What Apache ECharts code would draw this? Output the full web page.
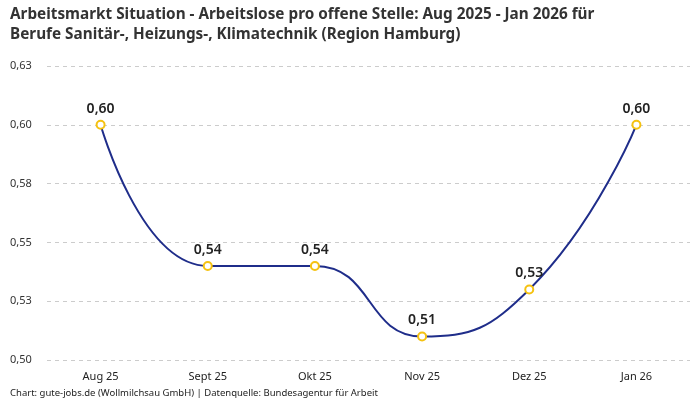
<!DOCTYPE html>
<html style="height: 100%">
  <head>
    <meta charset="UTF-8" />
    <title>Arbeitsmarkt Situation Hamburg</title>
    <script src="https://cdn.jsdelivr.net/npm/echarts/dist/echarts.min.js"></script>
  </head>
  <body style="height: 100%; margin: 0">
    <div id="main" style="width: 700px; height: 400px"></div>
    <script>
      // Daten
      var months = ['Aug 25', 'Sept 25', 'Okt 25', 'Nov 25', 'Dez 25', 'Jan 26'];
      var ratio = [0.6, 0.54, 0.54, 0.51, 0.53, 0.6];

      var fmt = function (v) {
        return (v + 1e-9).toFixed(2).replace('.', ',');
      };

      var chart = echarts.init(document.getElementById('main'));

      var option = {
        textStyle: { fontFamily: 'Noto Sans' },
        title: {
          text: 'Arbeitsmarkt Situation - Arbeitslose pro offene Stelle: Aug 2025 - Jan 2026 für\nBerufe Sanitär-, Heizungs-, Klimatechnik (Region Hamburg)',
          left: 5,
          top: 0,
          textStyle: {
            fontSize: 15.3,
            fontWeight: 'bold',
            color: '#333',
            lineHeight: 20,
          },
        },
        graphic: [
          {
            type: 'text',
            left: 10,
            top: 388,
            style: {
              text: 'Chart: gute-jobs.de (Wollmilchsau GmbH) | Datenquelle: Bundesagentur für Arbeit',
              fontSize: 9.5,
              fill: '#222',
              fontFamily: 'Noto Sans',
            },
          },
        ],
        grid: { left: 47, right: 10, top: 66, bottom: 40 },
        xAxis: {
          type: 'category',
          data: months,
          axisLine: { show: false },
          axisTick: { show: false },
          axisLabel: { color: '#222', fontSize: 11, margin: 11 },
        },
        yAxis: {
          type: 'value',
          min: 0.5,
          max: 0.625,
          interval: 0.025,
          axisLabel: {
            color: '#333',
            fontSize: 11,
            formatter: fmt,
            align: 'left',
            margin: 37,
          },
          splitLine: { lineStyle: { type: [4, 4], color: '#ccc' } },
        },
        series: [
          {
            type: 'line',
            data: ratio,
            smooth: 0.5,
            symbol: 'circle',
            symbolSize: 8,
            lineStyle: { color: '#1f2d8a', width: 2 },
            itemStyle: { color: '#fff', borderColor: '#f5c211', borderWidth: 2 },
            label: {
              show: true,
              position: 'top',
              distance: 4,
              fontSize: 14,
              fontWeight: 600,
              color: '#222',
              formatter: function (p) {
                return fmt(p.value);
              },
            },
          },
        ],
      };

      chart.setOption(option);
    </script>
  </body>
</html>
